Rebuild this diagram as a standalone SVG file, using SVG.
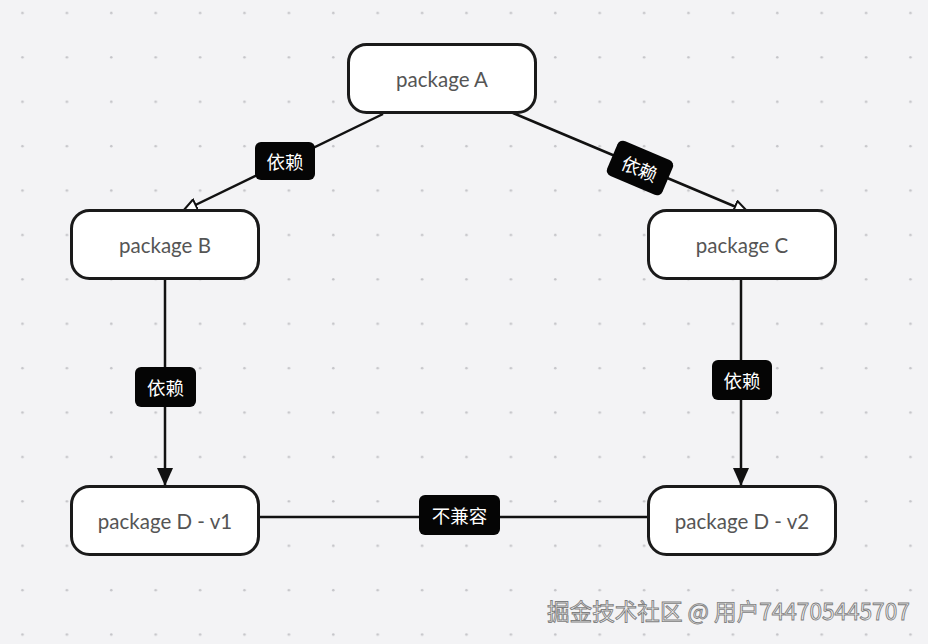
<svg xmlns="http://www.w3.org/2000/svg" width="928" height="644" viewBox="0 0 928 644">
<defs>
<pattern id="dots" x="0.5" y="-9" width="44.4" height="44.4" patternUnits="userSpaceOnUse">
<circle cx="22" cy="22" r="1.3" fill="#c4c4c8"/>
</pattern>
<marker id="hollow" viewBox="0 0 16 14" refX="15" refY="7" markerWidth="16" markerHeight="14" markerUnits="userSpaceOnUse" orient="auto">
<path d="M1,1 L15,7 L1,13 Z" fill="#fff" stroke="#111" stroke-width="2" stroke-linejoin="miter"/>
</marker>
<marker id="filled" viewBox="0 0 18 16" refX="17" refY="8" markerWidth="18" markerHeight="16" markerUnits="userSpaceOnUse" orient="auto">
<path d="M0,0 L18,8 L0,16 Z" fill="#111"/>
</marker>
</defs>
<style>
.node rect{fill:#fff;stroke:#1a1a1a;stroke-width:3}
.node text{font-family:"Lato","Open Sans","Noto Sans",sans-serif;font-size:20.5px;fill:#555;text-anchor:middle;dominant-baseline:central}
.edge{stroke:#111;stroke-width:2.5;fill:none}
.lbl rect{fill:#050505}
.lbl text{font-family:"Noto Sans CJK SC","Noto Sans",sans-serif;font-size:18.5px;fill:#fff;text-anchor:middle;dominant-baseline:central}
.wm{font-family:"Noto Sans CJK SC","Noto Sans",sans-serif;font-size:22.6px;fill:#f6f6f6;stroke:#808080;stroke-width:0.9}
</style>
<rect width="928" height="644" fill="#f3f3f5"/>
<rect width="928" height="644" fill="url(#dots)"/>
<g id="connectors">
<line class="edge" x1="383" y1="114" x2="183" y2="211" marker-end="url(#hollow)"/>
<line class="edge" x1="513" y1="113" x2="748" y2="212" marker-end="url(#hollow)"/>
<line class="edge" x1="165" y1="280" x2="165" y2="485" marker-end="url(#filled)"/>
<line class="edge" x1="741" y1="280" x2="741" y2="485" marker-end="url(#filled)"/>
<line class="edge" x1="259" y1="517" x2="648" y2="517"/>
<g class="lbl"><rect x="255" y="142" width="60" height="38" rx="6"/><text x="285" y="161">依赖</text></g>
<g class="lbl" transform="translate(640,168) rotate(23)"><rect x="-30" y="-19" width="60" height="38" rx="6"/><text x="0" y="0">依赖</text></g>
<g class="lbl"><rect x="135" y="367" width="61" height="40" rx="6"/><text x="165.5" y="387">依赖</text></g>
<g class="lbl"><rect x="712" y="360" width="60" height="40" rx="6"/><text x="742" y="380">依赖</text></g>
<g class="lbl"><rect x="419" y="495" width="81" height="40" rx="6"/><text x="459.5" y="515">不兼容</text></g>
</g>
<g id="nodeA" class="node"><rect x="348.5" y="44.5" width="187" height="68" rx="18"/><text x="442" y="78.5">package A</text></g>
<g id="nodeB" class="node"><rect x="71.5" y="210.5" width="187" height="68" rx="18"/><text x="165" y="244.5">package B</text></g>
<g id="nodeC" class="node"><rect x="648.5" y="210.5" width="187" height="68" rx="18"/><text x="742" y="244.5">package C</text></g>
<g id="nodeD1" class="node"><rect x="71.5" y="486.5" width="187" height="68" rx="18"/><text x="165" y="520.5">package D - v1</text></g>
<g id="nodeD2" class="node"><rect x="648.5" y="486.5" width="187" height="68" rx="18"/><text x="742" y="520.5">package D - v2</text></g>
<text class="wm" x="547" y="620">掘金技术社区 @ 用户744705445707</text>
</svg>
